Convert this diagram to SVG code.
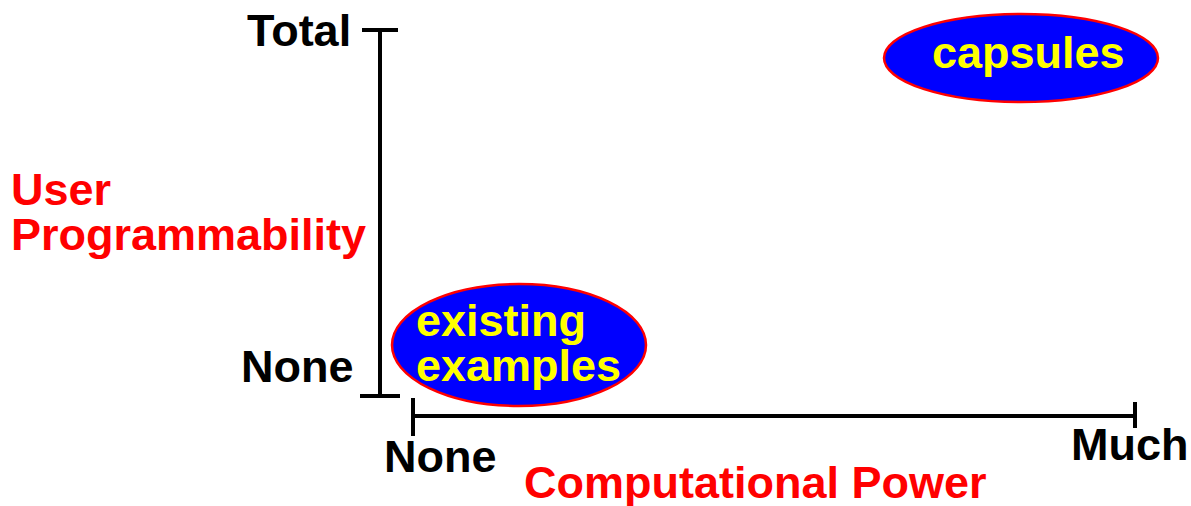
<svg xmlns="http://www.w3.org/2000/svg" width="1191" height="506" viewBox="0 0 1191 506">
<style>
text{font-family:"Liberation Sans",Arial,sans-serif;font-weight:bold;font-size:45px}
.k{fill:#000}
.r{fill:#ff0000}
.y{fill:#ffff00}
.ax{stroke:#000;stroke-width:4;fill:none}
.bub{fill:#0000ff;stroke:#ff0000;stroke-width:2.5}
</style>
<rect width="1191" height="506" fill="#fff"/>
<g id="axes">
<path class="ax" d="M380,30V396M362,30H398M360,396H400"/>
<path class="ax" d="M413,416H1135M413,398V436M1135,402V428"/>
</g>
<g id="labels">
<text class="k" x="247" y="46">Total</text>
<text class="k" x="241" y="382">None</text>
<text class="k" x="384" y="472">None</text>
<text class="k" x="1071" y="460">Much</text>
<text class="r" x="524" y="498">Computational Power</text>
<text class="r" x="11" y="205">User</text>
<text class="r" x="11" y="250">Programmability</text>
</g>
<g id="existing">
<ellipse class="bub" cx="519" cy="345" rx="127" ry="61"/>
<text class="y" x="416" y="336">existing</text>
<text class="y" x="416" y="381">examples</text>
</g>
<g id="capsules">
<ellipse class="bub" cx="1021" cy="58" rx="137" ry="44"/>
<text class="y" x="932" y="68">capsules</text>
</g>
</svg>
